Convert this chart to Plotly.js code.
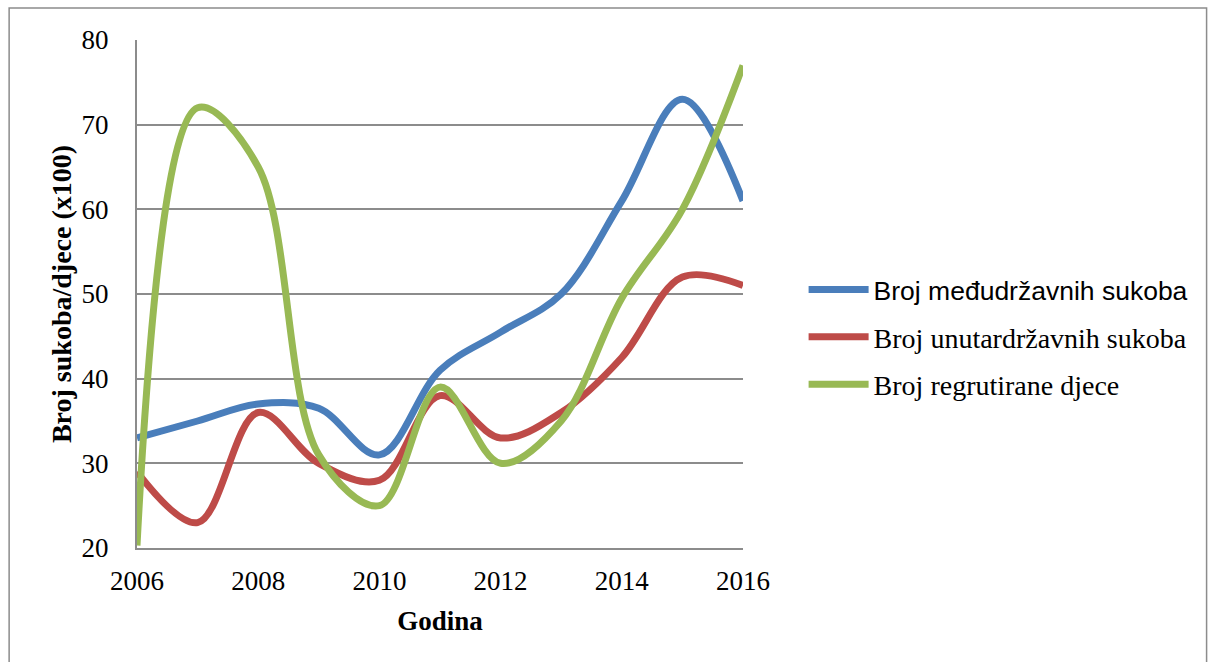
<!DOCTYPE html>
<html>
<head>
<meta charset="utf-8">
<script src="https://cdn.plot.ly/plotly-3.0.1.min.js"></script>
<style>html,body{margin:0;padding:0;background:#fff;}#chart{width:1209px;height:662px;}</style>
</head>
<body>
<div id="chart"></div>
<script>
const years = [2006, 2007, 2008, 2009, 2010, 2011, 2012, 2013, 2014, 2015, 2016];
const medjudrzavni = [33, 35, 37, 36.5, 31, 41, 45.5, 50, 61, 73, 61];
const unutardrzavni = [29, 23, 36, 30, 28, 38, 33, 36, 42.5, 52, 51];
const regrutiranaDjeca = [20.3, 72, 65, 31, 25, 39, 30, 35, 49.5, 60, 77];
const seriesNames = [
  '<span style="font-family:Liberation Sans, Arial, sans-serif;font-size:26.5px">Broj međudržavnih sukoba</span>',
  'Broj unutardržavnih sukoba',
  'Broj regrutirane djece'
];
const colors = ['#4A7EBB', '#BE4B48', '#98B954'];
const xTicks = [2006, 2008, 2010, 2012, 2014, 2016];
const yTicks = [20, 30, 40, 50, 60, 70, 80];

const serif = 'Liberation Serif, Times New Roman, serif';
const seriesData = [medjudrzavni, unutardrzavni, regrutiranaDjeca];
const traces = seriesData.map((vals, i) => ({
  x: years, y: vals, type: 'scatter', mode: 'lines',
  name: seriesNames[i], legendgroup: 'g' + i,
  line: {color: colors[i], width: 7, shape: 'spline', smoothing: 1}
}));

const layout = {
  width: 1209, height: 662,
  margin: {l: 137, r: 466, t: 40, b: 114},
  paper_bgcolor: '#fff', plot_bgcolor: '#fff',
  showlegend: true,
  legend: {x: 1.1, y: 0.415, xanchor: 'left', yanchor: 'middle',
    font: {family: serif, size: 28, color: '#000'},
    itemwidth: 60, tracegroupgap: 8, bgcolor: 'rgba(0,0,0,0)'},
  xaxis: {range: [2006, 2016], tickvals: xTicks, ticktext: xTicks.map(String),
    showgrid: false, zeroline: false, showline: true, linecolor: '#8c8c8c', linewidth: 2,
    ticks: 'outside', ticklen: 8, tickcolor: 'rgba(0,0,0,0)',
    tickfont: {family: serif, size: 27, color: '#000'},
    title: {text: '<b>Godina</b>', font: {family: serif, size: 27, color: '#000'}, standoff: 16}},
  yaxis: {range: [20, 80], tickvals: yTicks, ticktext: yTicks.map(String),
    showgrid: true, gridcolor: '#8c8c8c', gridwidth: 2, zeroline: false,
    showline: true, linecolor: '#8c8c8c', linewidth: 2,
    ticks: 'outside', ticklen: 21, tickcolor: 'rgba(0,0,0,0)',
    tickfont: {family: serif, size: 27, color: '#000'},
    title: {text: '<b>Broj sukoba/djece (x100)</b>', font: {family: serif, size: 28, color: '#000'}, standoff: 2}},
  shapes: [{type: 'rect', xref: 'paper', yref: 'paper', x0: -0.211, x1: 1.765, y0: -0.26, y1: 1.063,
    line: {color: '#8c8c8c', width: 1.5}, fillcolor: 'rgba(0,0,0,0)', layer: 'below'}]
};

Plotly.newPlot('chart', traces, layout, {displayModeBar: false, staticPlot: true});
</script>
</body>
</html>
